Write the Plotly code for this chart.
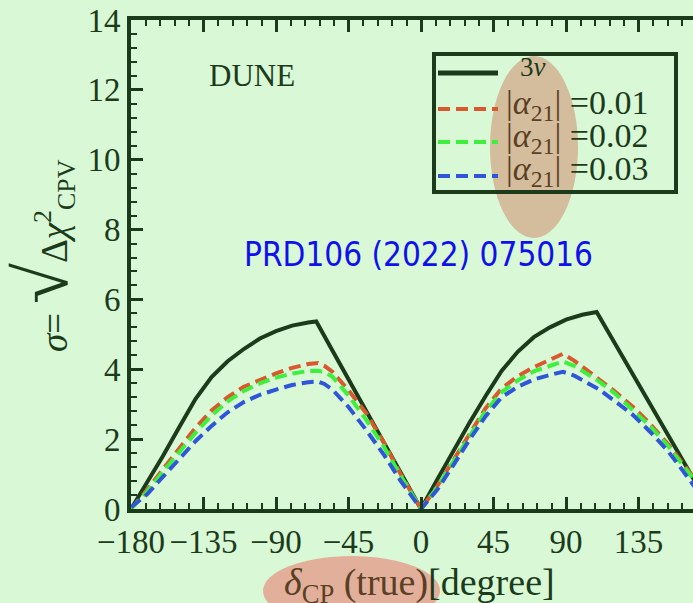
import plotly.graph_objects as go

# ---- data ----
delta_3nu = [-180, -170, -160, -150, -140, -130, -120, -110, -100, -90, -80, -70, -65,
             -55, -45, -34, -23, -13, 0,
             10, 20, 30, 40, 50, 60, 70, 80, 90, 100, 109,
             120, 131.6, 142, 152.7, 160, 168.8, 180]
sigma_3nu = [0, 0.74, 1.53, 2.35, 3.15, 3.78, 4.23, 4.58, 4.88, 5.09, 5.25, 5.34, 5.37,
             4.54, 3.72, 2.81, 1.90, 1.07, 0,
             0.84, 1.67, 2.46, 3.23, 3.95, 4.5, 4.92, 5.2, 5.42, 5.56, 5.64,
             4.77, 3.84, 3.02, 2.17, 1.59, 0.89, 0]

delta_alpha = [-180, -170, -160, -150, -140, -130, -120, -110, -100, -90, -80, -70, -64,
               -60, -55, -45, -34, -23, -13, 0,
               10, 20, 30, 40, 50, 60, 70, 80, 88, 95, 100,
               110, 120, 131.6, 142, 152.7, 160, 168.8, 180]
sigma_a001 = [0, 0.55, 1.15, 1.75, 2.32, 2.82, 3.2, 3.5, 3.7, 3.88, 4.04, 4.15, 4.18,
              4.1, 3.93, 3.4, 2.74, 1.9, 1.03, 0,
              0.65, 1.4, 2.17, 2.88, 3.45, 3.8, 4.06, 4.27, 4.44, 4.25, 4.07,
              3.74, 3.38, 2.92, 2.45, 1.89, 1.47, 0.92, 0]
sigma_a002 = [0, 0.5, 1.08, 1.65, 2.18, 2.68, 3.08, 3.38, 3.6, 3.76, 3.88, 3.95, 3.96,
              3.92, 3.79, 3.25, 2.55, 1.78, 0.98, 0,
              0.62, 1.35, 2.1, 2.8, 3.34, 3.68, 3.94, 4.1, 4.22, 4.1, 3.95,
              3.67, 3.32, 2.84, 2.38, 1.84, 1.42, 0.88, 0]
sigma_a003 = [0.05, 0.42, 0.93, 1.45, 1.94, 2.38, 2.77, 3.06, 3.27, 3.42, 3.55, 3.63, 3.65,
              3.58, 3.42, 2.92, 2.26, 1.55, 0.83, 0,
              0.55, 1.25, 1.98, 2.65, 3.2, 3.5, 3.71, 3.84, 3.93, 3.82, 3.7,
              3.44, 3.1, 2.69, 2.22, 1.69, 1.25, 0.69, 0]

x_ticks = [-180, -135, -90, -45, 0, 45, 90, 135, 180]
y_ticks = [0, 2, 4, 6, 8, 10, 12, 14]

BG = "#d8f8d6"
DARK = "#1b3b1b"
BROWN = "#5a3f25"
SERIF = "Liberation Serif, Times New Roman, serif"

legend_labels = [
    "3<i>ν</i>",
    f"<span style='color:{BROWN}'>|<i>α</i><sub>21</sub>|</span> =0.01",
    f"<span style='color:{BROWN}'>|<i>α</i><sub>21</sub>|</span> =0.02",
    f"<span style='color:{BROWN}'>|<i>α</i><sub>21</sub>|</span> =0.03",
]
series_x = [delta_3nu, delta_alpha, delta_alpha, delta_alpha]
series_y = [sigma_3nu, sigma_a001, sigma_a002, sigma_a003]
colors = [DARK, "#d9582e", "#3ef03e", "#2f55d8"]
dashes = ["solid", "12px,6px", "12px,6px", "12px,6px"]

# pixel -> paper helpers (plot area: x 131..693, y 20..509)
def px(x):
    return (x - 131) / 562.0

def py(y):
    return (509 - y) / 489.0

fig = go.Figure()
for name, xs, ys, c, d in zip(legend_labels, series_x, series_y, colors, dashes):
    fig.add_trace(go.Scatter(x=xs, y=ys, mode="lines", name=name, showlegend=False,
                             line=dict(color=c, width=4, dash=d)))

fig.update_layout(
    width=693, height=603,
    margin=dict(l=131, r=0, t=20, b=94),
    paper_bgcolor=BG, plot_bgcolor=BG,
    font=dict(family=SERIF, color=DARK, size=30),
    showlegend=False,
)

fig.update_xaxes(
    range=[-180, 168.8], tickvals=x_ticks, tickangle=0,
    showgrid=False, zeroline=False,
    showline=True, linecolor=DARK, linewidth=4, mirror="ticks",
    ticks="inside", ticklen=12, tickwidth=3, tickcolor=DARK,
    minor=dict(dtick=9, ticks="inside", ticklen=6, tickwidth=2, tickcolor=DARK),
    tickfont=dict(family=SERIF, size=33, color=DARK),
    ticklabelstandoff=0,
)
fig.update_yaxes(
    range=[0, 14], tickvals=y_ticks,
    showgrid=False, zeroline=False,
    showline=True, linecolor=DARK, linewidth=4, mirror=False,
    ticks="inside", ticklen=12, tickwidth=3, tickcolor=DARK,
    minor=dict(dtick=0.4, ticks="inside", ticklen=6, tickwidth=2, tickcolor=DARK),
    tickfont=dict(family=SERIF, size=33, color=DARK),
)

# decorative highlight ellipses
fig.add_shape(type="circle", xref="paper", yref="paper",
              x0=px(490), x1=px(578), y0=py(238), y1=py(56),
              fillcolor="#d4bd9c", line=dict(width=0), layer="above")
fig.add_shape(type="circle", xref="paper", yref="paper",
              x0=px(263), x1=px(440), y0=py(626), y1=py(556),
              fillcolor="#e2b09a", line=dict(width=0), layer="above")

# legend box with key lines
fig.add_shape(type="rect", xref="paper", yref="paper",
              x0=px(434), x1=px(676), y0=py(192), y1=py(54),
              line=dict(color=DARK, width=4), fillcolor="rgba(0,0,0,0)", layer="above")
key_rows = [73, 109, 142, 176]
text_rows = [67, 105, 138, 171]
for lab, c, d, ky, ty in zip(legend_labels, colors, dashes, key_rows, text_rows):
    fig.add_shape(type="line", xref="paper", yref="paper",
                  x0=px(438), x1=px(498), y0=py(ky), y1=py(ky),
                  line=dict(color=c, width=4 if c != DARK else 5, dash=d), layer="above")
    if lab.startswith("3"):
        fig.add_annotation(text=lab, xref="paper", yref="paper", x=px(518), y=py(ty),
                           xanchor="left", yanchor="middle", showarrow=False,
                           font=dict(family=SERIF, size=27, color=DARK))
    else:
        fig.add_annotation(text=lab, xref="paper", yref="paper", x=px(504), y=py(ty),
                           xanchor="left", yanchor="middle", showarrow=False,
                           font=dict(family=SERIF, size=34, color=DARK))

fig.add_annotation(text="DUNE", xref="paper", yref="paper",
                   x=px(252), y=py(75), xanchor="center", yanchor="middle",
                   showarrow=False, font=dict(family=SERIF, size=31, color=DARK))

fig.add_annotation(text="PRD106 (2022) 075016", xref="paper", yref="paper",
                   x=px(418), y=py(255), xanchor="center", yanchor="middle",
                   showarrow=False,
                   font=dict(family="Liberation Sans Narrow, DejaVu Sans Condensed, sans-serif",
                             size=33, color="#1010ee"))

fig.add_annotation(
    text=f"<span style='color:{BROWN}'><i>δ</i><sub>CP</sub> (true)</span>[degree]",
    xref="paper", yref="paper", x=px(419), y=py(585), xanchor="center", yanchor="middle",
    showarrow=False, font=dict(family=SERIF, size=38, color=DARK))

fig.add_annotation(
    text="<i>σ</i>= <span style='font-size:74px'>√</span>Δ<i>χ</i><sup>2</sup><sub>CPV</sub>",
    xref="paper", yref="paper", x=px(42), y=py(256), xanchor="center", yanchor="middle",
    textangle=-90, showarrow=False, font=dict(family=SERIF, size=37, color=DARK))

fig.write_html("out.html")
